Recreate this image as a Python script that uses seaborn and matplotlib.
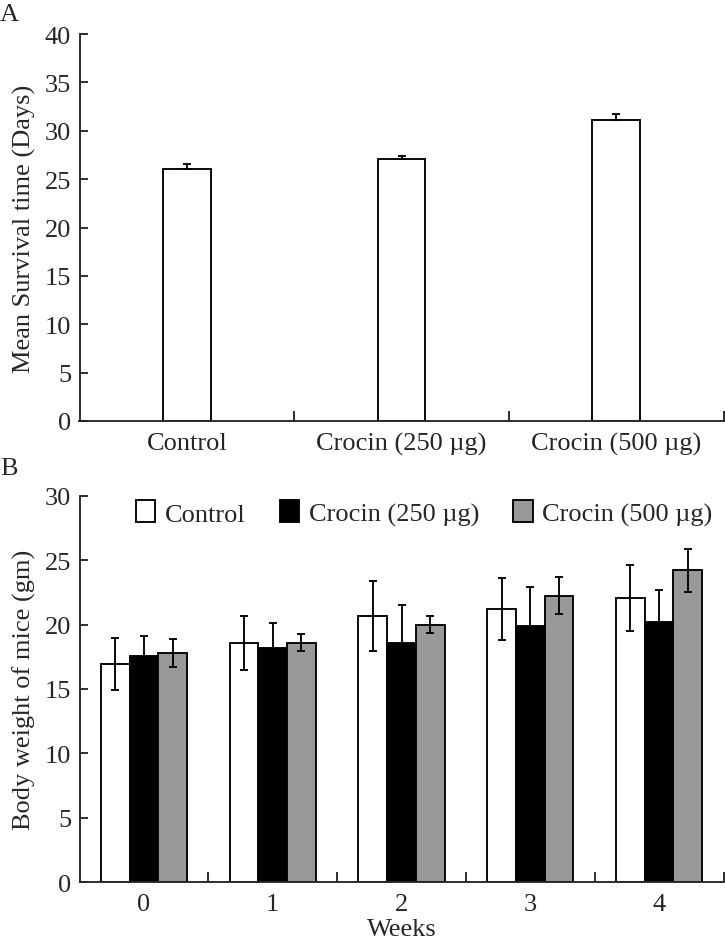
import matplotlib
matplotlib.use("Agg")
import matplotlib.pyplot as plt
from matplotlib.patches import Patch
from matplotlib.ticker import FixedLocator
import seaborn as sns
import pandas as pd
import numpy as np

# ---- Data (panel A) ----
groups = ["Control", "Crocin (250 µg)", "Crocin (500 µg)"]
survival_mean = [26.0, 27.05, 31.15]
survival_err = [0.6, 0.35, 0.55]

# ---- Data (panel B) ----
weeks = ["0", "1", "2", "3", "4"]
weight_control = [16.95, 18.55, 20.65, 21.2, 22.05]
weight_c250 = [17.55, 18.15, 18.6, 19.9, 20.2]
weight_c500 = [17.8, 18.6, 20.0, 22.25, 24.2]
err_control = [2.0, 2.1, 2.7, 2.4, 2.55]
err_c250 = [1.6, 2.0, 2.9, 3.0, 2.45]
err_c500 = [1.1, 0.65, 0.65, 1.45, 1.65]

colors = ["white", "black", "#999999"]

sns.set_style("ticks")
plt.rcParams["font.family"] = ["Liberation Serif", "DejaVu Serif"]
plt.rcParams["font.size"] = 19

fig = plt.figure(figsize=(7.25, 9.45), dpi=100)
L, R = 79.5 / 725, 723.5 / 725
axA = fig.add_axes([L, 1 - 422 / 945, R - L, (422 - 35) / 945])
axB = fig.add_axes([L, 1 - 883.3 / 945, R - L, (883.3 - 496.7) / 945])

lw = 1.35

# ---- Panel A ----
dfA = pd.DataFrame({"group": groups, "mean": survival_mean})
sns.barplot(data=dfA, x="group", y="mean", order=groups, color="white",
            edgecolor="black", linewidth=lw, width=0.223, errorbar=None, ax=axA)
for bar, e in zip(axA.containers[0], survival_err):
    xc = bar.get_x() + bar.get_width() / 2
    h = bar.get_height()
    axA.errorbar(xc, h, yerr=[[0], [e]], fmt="none", ecolor="black",
                 elinewidth=lw, capsize=3, capthick=lw, zorder=5)
axA.set_xlim(-0.5, 2.5)
axA.set_ylim(0, 40)
axA.set_yticks(np.arange(0, 41, 5))
axA.set_ylabel("Mean Survival time (Days)", labelpad=6)
axA.set_xlabel("")

# ---- Panel B ----
dfB = pd.DataFrame({
    "week": weeks * 3,
    "weight": weight_control + weight_c250 + weight_c500,
    "group": [groups[0]] * 5 + [groups[1]] * 5 + [groups[2]] * 5,
})
sns.barplot(data=dfB, x="week", y="weight", hue="group", order=weeks,
            hue_order=groups, palette=colors, edgecolor="black", linewidth=lw,
            width=0.67, errorbar=None, legend=False, ax=axB)
for cont, errs in zip(axB.containers, [err_control, err_c250, err_c500]):
    for bar, e in zip(cont, errs):
        xc = bar.get_x() + bar.get_width() / 2
        h = bar.get_height()
        axB.errorbar(xc, h, yerr=e, fmt="none", ecolor="black",
                     elinewidth=lw, capsize=3, capthick=lw, zorder=5)
axB.set_xlim(-0.5, 4.5)
axB.set_ylim(0, 30)
axB.set_yticks(np.arange(0, 31, 5))
axB.set_ylabel("Body weight of mice (gm)", labelpad=6)
axB.set_xlabel("Weeks", labelpad=2)

handles = [Patch(facecolor=c, edgecolor="black", linewidth=lw) for c in colors]
axB.legend(handles, groups, loc="upper center", bbox_to_anchor=(0.535, 1.015),
           ncol=3, frameon=False, handlelength=0.75, handleheight=0.9,
           handletextpad=0.35, columnspacing=1.3, borderaxespad=0)

for ax, n in [(axA, 3), (axB, 5)]:
    sns.despine(ax=ax)
    for s in ["left", "bottom"]:
        ax.spines[s].set_linewidth(lw)
    ax.tick_params(axis="y", direction="in", length=6, width=lw, pad=6)
    ax.tick_params(axis="x", which="major", length=0, pad=8)
    ax.xaxis.set_minor_locator(FixedLocator(np.arange(0.5, n, 1.0)))
    ax.tick_params(axis="x", which="minor", direction="in", length=7, width=lw)

fig.text(0.0, 1 - 4 / 945, "A", va="top", ha="left")
fig.text(0.0, 1 - 458 / 945, "B", va="top", ha="left")

fig.savefig("out.png", dpi=100)
